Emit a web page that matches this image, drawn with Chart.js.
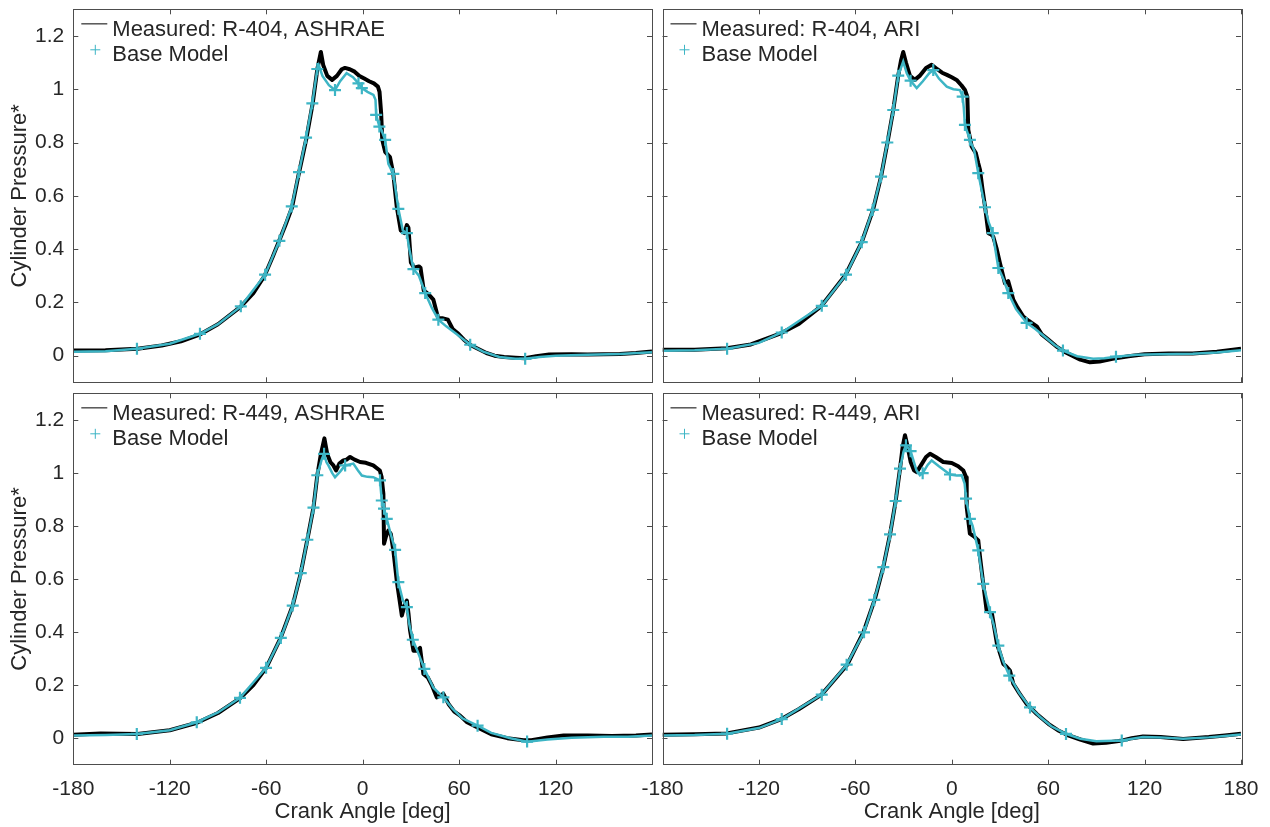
<!DOCTYPE html>
<html>
<head>
<meta charset="utf-8">
<title>Cylinder pressure vs crank angle</title>
<script src="https://cdn.jsdelivr.net/npm/chart.js@4.4.1/dist/chart.umd.min.js"></script>
<style>
  html, body { margin: 0; padding: 0; background: #fff; }
  #wrap { position: relative; width: 1270px; height: 827px; }
  #wrap canvas { position: absolute; left: 0; top: 0; }
</style>
</head>
<body>
<div id="wrap">
  <canvas id="tl" width="1270" height="827"></canvas>
  <canvas id="tr" width="1270" height="827"></canvas>
  <canvas id="bl" width="1270" height="827"></canvas>
  <canvas id="br" width="1270" height="827"></canvas>
</div>
<script>
// tick labels
const xTickValues = [-180, -120, -60, 0, 60, 120, 180];
const yTickValues = [0, 0.2, 0.4, 0.6, 0.8, 1, 1.2];

// R-404, ASHRAE
const tlMeasAngle = [-180,-160,-140,-125,-113,-101,-90,-76,-68,-61,-56,-52,-48,-44,-40,-35,-31,-28.2,-26,-24.5,-22,-19,-16,-13,-11,-8,-5,-2,1,4,7,9.5,10.5,11.5,12.2,14,17,19,21.2,23.7,26,27.5,28.5,30,32,35,36,38,41,44,47,50,53,56,59,63,67,72,77,82,88,95,101,108,116,130,140,150,160,170,180];
const tlMeasValue = [0.019,0.020,0.026,0.038,0.054,0.080,0.118,0.183,0.235,0.300,0.37,0.43,0.49,0.555,0.675,0.815,0.95,1.075,1.14,1.09,1.05,1.035,1.05,1.075,1.08,1.075,1.066,1.05,1.04,1.03,1.022,1.01,0.99,0.91,0.81,0.765,0.745,0.685,0.56,0.47,0.46,0.49,0.48,0.35,0.33,0.335,0.33,0.245,0.23,0.21,0.14,0.14,0.135,0.1,0.085,0.06,0.04,0.025,0.01,0.0,-0.005,-0.008,-0.01,-0.002,0.004,0.005,0.004,0.005,0.006,0.01,0.016];
const tlModelAngle = [-180,-160,-140.4,-120,-101.2,-90,-75.8,-60.7,-51.8,-44.1,-39.6,-35.2,-31.3,-28.2,-27.3,-25,-21,-17.2,-14,-10,-6,-2.6,-0.5,3,6.7,8,8.4,10.4,11.5,14,16,19.1,22.2,25,27.5,29,31.6,35,38.9,43,47.1,52,58.6,66.9,75,85,95,101.1,110,120,140,160,180];
const tlModelValue = [0.015,0.017,0.026,0.045,0.082,0.118,0.185,0.304,0.431,0.56,0.689,0.818,0.947,1.076,1.09,1.05,1.015,0.997,1.03,1.06,1.045,1.022,1.004,0.99,0.979,0.96,0.904,0.86,0.85,0.81,0.72,0.682,0.551,0.47,0.46,0.4,0.325,0.3,0.235,0.18,0.135,0.11,0.08,0.041,0.015,-0.005,-0.012,-0.012,-0.005,0,0.003,0.006,0.013];
const tlMarkAngle = [-140.4,-101.2,-75.8,-60.7,-51.8,-44.1,-39.6,-35.2,-31.3,-28.2,-17.2,-2.6,-0.5,8.4,10.4,14,19.1,22.2,27.5,31.6,38.9,47.1,66.9,101.1];
const tlMarkValue = [0.026,0.082,0.185,0.304,0.431,0.56,0.689,0.818,0.947,1.076,0.997,1.022,1.004,0.904,0.86,0.81,0.682,0.551,0.46,0.325,0.235,0.135,0.041,-0.012];

// R-404, ARI
const trMeasAngle = [-180,-160,-140,-125,-106,-95,-81,-66,-56,-49,-44,-40,-36.4,-33.3,-31.5,-30.2,-28.5,-26,-23,-20,-16,-12.5,-9,-6,-3,0,3,6,8.2,9.7,10.3,12.4,15,16.5,17.6,19,20.7,22.8,24.5,25.8,28,30,33.1,35.1,36.5,38.3,41,44.5,48,52.9,56,60.1,65,70,75,80,86,92,100,110,120,135,150,165,180];
const trMeasValue = [0.022,0.022,0.028,0.042,0.085,0.12,0.187,0.304,0.426,0.547,0.672,0.8,0.922,1.051,1.11,1.14,1.1,1.05,1.035,1.05,1.08,1.092,1.075,1.062,1.054,1.045,1.035,1.015,0.997,0.972,0.847,0.785,0.76,0.722,0.697,0.63,0.56,0.46,0.455,0.447,0.4,0.347,0.272,0.28,0.25,0.21,0.18,0.147,0.13,0.11,0.08,0.06,0.035,0.015,0.0,-0.015,-0.025,-0.022,-0.012,-0.002,0.005,0.008,0.008,0.015,0.026];
const trModelAngle = [-180,-160,-139.8,-120,-105.8,-80.9,-65.8,-56,-49.2,-44,-40.1,-36.4,-33.3,-30.2,-28,-25.6,-21.8,-18,-14,-11.5,-8,-3.1,1,5.1,6.8,7.5,8.2,11.3,14,16.5,20.7,23,25.5,29,32,35.2,40,46.6,52,58,64,69.2,78,88,95,102.2,115,130,150,165,180];
const trModelValue = [0.018,0.02,0.026,0.048,0.087,0.187,0.304,0.426,0.547,0.672,0.8,0.922,1.051,1.104,1.06,1.032,1.004,1.03,1.06,1.072,1.04,1.01,1.0,0.997,0.972,0.93,0.866,0.81,0.77,0.685,0.557,0.5,0.46,0.329,0.29,0.235,0.175,0.123,0.1,0.07,0.04,0.019,-0.002,-0.012,-0.01,-0.004,0.003,0.005,0.007,0.012,0.02];
const trMarkAngle = [-139.8,-105.8,-80.9,-65.8,-56,-49.2,-44,-40.1,-36.4,-33.3,-25.6,-11.5,6.8,8.2,11.3,16.5,20.7,25.5,29,35.2,46.6,69.2,102.2];
const trMarkValue = [0.026,0.087,0.187,0.304,0.426,0.547,0.672,0.8,0.922,1.051,1.032,1.072,0.972,0.866,0.81,0.685,0.557,0.46,0.329,0.235,0.123,0.019,-0.004];

// R-449, ASHRAE
const blMeasAngle = [-180,-163,-140,-120,-103,-90,-76,-68,-60,-51,-43.5,-38.5,-34.4,-30.6,-28.2,-26,-23.8,-22,-20,-18.2,-16.5,-14.5,-12,-10,-7.8,-5,-1.6,2,6.6,10.7,11.8,12.9,13.3,14.5,16,17.5,19.1,21.2,24.4,26,27.5,28.5,29.5,31.6,34,35.7,37.8,40.5,43,46.1,50.2,53.4,57,60.6,65,71.5,80,90,100,105,115,125,140,155,170,180];
const blMeasValue = [0.013,0.018,0.016,0.03,0.058,0.095,0.152,0.2,0.265,0.378,0.5,0.622,0.748,0.869,0.991,1.07,1.13,1.07,1.04,1.028,1.009,1.035,1.047,1.05,1.06,1.05,1.041,1.038,1.028,1.009,0.984,0.921,0.733,0.76,0.783,0.77,0.708,0.594,0.462,0.5,0.519,0.47,0.406,0.33,0.33,0.34,0.242,0.229,0.2,0.154,0.167,0.129,0.1,0.085,0.06,0.04,0.015,0.0,-0.008,-0.008,0.003,0.01,0.01,0.008,0.01,0.014];
const blModelAngle = [-180,-160,-140.5,-120,-103.2,-90,-76.3,-60.1,-50.9,-43.5,-38.5,-34.4,-30.6,-28.2,-25.5,-24,-22.5,-21.3,-19,-17.2,-14,-10.9,-5.8,-3,-0.5,3,6.6,10.8,11.9,13.3,15,17,20.2,22.2,25,27.5,29,31.2,34,38.4,44,50.2,56,62,71.5,80,92,102.3,115,130,150,165,180];
const blModelValue = [0.01,0.012,0.016,0.03,0.06,0.097,0.152,0.265,0.378,0.5,0.622,0.748,0.869,0.991,1.05,1.072,1.04,1.028,1.0,0.984,1.005,1.028,1.035,1.01,0.99,0.985,0.984,0.972,0.896,0.865,0.827,0.78,0.71,0.588,0.52,0.494,0.43,0.371,0.33,0.261,0.19,0.154,0.11,0.075,0.047,0.02,0.0,-0.013,-0.005,0.002,0.005,0.005,0.01];
const blMarkAngle = [-140.5,-103.2,-76.3,-60.1,-50.9,-43.5,-38.5,-34.4,-30.6,-28.2,-24,-10.9,10.8,11.9,13.3,15,20.2,22.2,27.5,31.2,38.4,50.2,71.5,102.3];
const blMarkValue = [0.016,0.06,0.152,0.265,0.378,0.5,0.622,0.748,0.869,0.991,1.072,1.028,0.972,0.896,0.865,0.827,0.71,0.588,0.494,0.371,0.261,0.154,0.047,-0.013];

// R-449, ARI
const brMeasAngle = [-180,-160,-140,-120,-106,-95,-81,-65,-55,-48,-42.6,-38.4,-34.9,-32.2,-30.5,-29.1,-27.5,-25.5,-23.5,-21.8,-19,-16,-13.5,-10,-5.3,0,4,7.2,8.9,9.3,11.3,14,16.5,17.6,19.6,21.7,23.5,25,28.1,32.1,34,36.2,38.3,42,46.6,52.9,60.1,66,72,80,88,96,105,112,119,130,144,160,170,180];
const brMeasValue = [0.013,0.015,0.018,0.04,0.072,0.11,0.164,0.277,0.399,0.521,0.645,0.768,0.894,1.016,1.1,1.142,1.1,1.04,1.01,1.003,1.03,1.06,1.072,1.06,1.041,1.037,1.025,1.009,0.984,0.871,0.771,0.76,0.745,0.682,0.582,0.481,0.475,0.47,0.357,0.28,0.27,0.255,0.205,0.17,0.129,0.091,0.054,0.03,0.012,-0.005,-0.02,-0.017,-0.01,0.0,0.006,0.004,-0.003,0.004,0.01,0.017];
const brModelAngle = [-180,-160,-139.8,-120,-105.8,-80.9,-65.4,-54.6,-48.2,-42.6,-38.4,-34.9,-32.2,-30,-28.5,-25.6,-22,-19.8,-18.1,-15,-12.5,-8,-1.1,3,6.2,8,8.9,11.3,13,16.5,19.6,23.8,26,29,32,35.8,42,48.7,55,62,71.1,80,90,105.8,119,130,144,160,170,180];
const brModelValue = [0.01,0.012,0.017,0.038,0.072,0.164,0.277,0.399,0.521,0.645,0.768,0.894,1.016,1.08,1.104,1.082,1.01,0.991,0.999,1.03,1.047,1.025,0.994,0.99,0.991,0.96,0.903,0.827,0.8,0.708,0.582,0.475,0.43,0.349,0.29,0.236,0.17,0.116,0.08,0.045,0.016,-0.002,-0.012,-0.009,0.004,0.003,-0.002,0.003,0.008,0.014];
const brMarkAngle = [-139.8,-105.8,-80.9,-65.4,-54.6,-48.2,-42.6,-38.4,-34.9,-32.2,-28.5,-25.6,-18.1,-1.1,8.9,11.3,16.5,19.6,23.8,29,35.8,48.7,71.1,105.8];
const brMarkValue = [0.017,0.072,0.164,0.277,0.399,0.521,0.645,0.768,0.894,1.016,1.104,1.082,0.999,0.994,0.903,0.827,0.708,0.582,0.475,0.349,0.236,0.116,0.016,-0.009];

const FONT = "'Liberation Sans', Arial, Helvetica, sans-serif";
const INK = '#262626';
const FRAME = '#4d4d4d';
const CYAN = '#3db5c5';

const pts = (xs, ys) => xs.map((x, i) => ({ x: x, y: ys[i] }));

// box round the axes + inward ticks on all four sides
const framePlugin = {
  id: 'frame',
  afterDraw(chart) {
    const { ctx, chartArea: a, scales: { x, y } } = chart;
    const t = 5;
    ctx.save();
    ctx.strokeStyle = FRAME;
    ctx.lineWidth = 1;
    ctx.beginPath();
    x.ticks.forEach(tk => {
      const px = Math.round(x.getPixelForValue(tk.value)) + 0.5;
      ctx.moveTo(px, a.bottom); ctx.lineTo(px, a.bottom - t);
      ctx.moveTo(px, a.top); ctx.lineTo(px, a.top + t);
    });
    y.ticks.forEach(tk => {
      const py = Math.round(y.getPixelForValue(tk.value)) + 0.5;
      ctx.moveTo(a.left, py); ctx.lineTo(a.left + t, py);
      ctx.moveTo(a.right, py); ctx.lineTo(a.right - t, py);
    });
    ctx.stroke();
    ctx.strokeRect(Math.round(a.left) + 0.5, Math.round(a.top) + 0.5,
      Math.round(a.right - a.left), Math.round(a.bottom - a.top));
    ctx.restore();
  }
};

// matlab-ish legend in the top left corner
const boxLegend = {
  id: 'boxLegend',
  afterDraw(chart, args, opts) {
    const { ctx, chartArea: a } = chart;
    ctx.save();
    ctx.font = '22px ' + FONT;
    ctx.fillStyle = INK;
    ctx.textAlign = 'left';
    ctx.textBaseline = 'alphabetic';
    ctx.fillText(opts.text, a.left + 39, a.top + 27);
    ctx.fillText('Base Model', a.left + 39, a.top + 52);
    ctx.strokeStyle = '#555';
    ctx.lineWidth = 1.5;
    ctx.beginPath();
    ctx.moveTo(a.left + 8, a.top + 14.5);
    ctx.lineTo(a.left + 34, a.top + 14.5);
    ctx.stroke();
    ctx.strokeStyle = CYAN;
    ctx.lineWidth = 1;
    const cx = a.left + 22, cy = a.top + 40.5;
    ctx.beginPath();
    ctx.moveTo(cx - 5, cy); ctx.lineTo(cx + 5, cy);
    ctx.moveTo(cx, cy - 5); ctx.lineTo(cx, cy + 5);
    ctx.stroke();
    ctx.restore();
  }
};

function makePanel(id, cfg) {
  const W = 1270, H = 827;
  const yw = cfg.yLabels ? cfg.left : 10;
  const xh = cfg.xLabels ? H - cfg.bottom : 0;
  new Chart(document.getElementById(id), {
    type: 'scatter',
    data: {
      datasets: [
        {
          label: cfg.text,
          data: pts(cfg.measAngle, cfg.measValue),
          showLine: true,
          borderColor: '#000',
          borderWidth: 4,
          borderJoinStyle: 'round',
          pointRadius: 0,
          order: 3
        },
        {
          label: 'Base Model',
          data: pts(cfg.modelAngle, cfg.modelValue),
          showLine: true,
          borderColor: CYAN,
          borderWidth: 2.5,
          pointRadius: 0,
          order: 2
        },
        {
          label: 'Base Model markers',
          data: pts(cfg.markAngle, cfg.markValue),
          showLine: false,
          pointStyle: 'cross',
          pointRadius: 6,
          borderColor: CYAN,
          backgroundColor: CYAN,
          pointBorderWidth: 2.2,
          order: 1
        }
      ]
    },
    options: {
      responsive: false,
      animation: false,
      events: [],
      layout: {
        padding: {
          left: cfg.left - yw,
          right: W - cfg.right,
          top: cfg.top,
          bottom: H - cfg.bottom - xh
        }
      },
      plugins: {
        legend: { display: false },
        tooltip: { enabled: false },
        boxLegend: { text: cfg.text }
      },
      scales: {
        x: {
          type: 'linear',
          min: -180,
          max: 180,
          afterBuildTicks: s => { s.ticks = xTickValues.map(v => ({ value: v })); },
          afterFit: s => { s.height = xh; s.paddingLeft = 0; s.paddingRight = 0; },
          grid: { display: false, drawTicks: false, tickLength: 0 },
          border: { display: false },
          ticks: {
            display: cfg.xLabels,
            padding: 12,
            color: INK,
            font: { family: FONT, size: 21 },
            maxRotation: 0,
            autoSkip: false,
            callback: v => (cfg.skipLast && v === 180) ? '' : String(v)
          },
          title: {
            display: cfg.xLabels,
            text: 'Crank Angle [deg]',
            color: INK,
            font: { family: FONT, size: 22 },
            padding: { top: 0, bottom: 2 }
          }
        },
        y: {
          type: 'linear',
          min: -0.1,
          max: 1.3,
          afterBuildTicks: s => { s.ticks = yTickValues.map(v => ({ value: v })); },
          afterFit: s => { s.width = yw; s.paddingTop = 0; s.paddingBottom = 0; },
          grid: { display: false, drawTicks: false, tickLength: 0 },
          border: { display: false },
          ticks: {
            display: cfg.yLabels,
            padding: 9,
            color: INK,
            font: { family: FONT, size: 21 },
            callback: v => String(+v.toFixed(1))
          },
          title: {
            display: cfg.yLabels,
            text: 'Cylinder Pressure*',
            color: INK,
            font: { family: FONT, size: 22 },
            padding: { top: 7, bottom: 0 }
          }
        }
      }
    },
    plugins: [framePlugin, boxLegend]
  });
}

makePanel('tl', {
  text: 'Measured: R-404, ASHRAE',
  left: 73.3, right: 652, top: 9.3, bottom: 382.3,
  xLabels: false, yLabels: true,
  measAngle: tlMeasAngle, measValue: tlMeasValue,
  modelAngle: tlModelAngle, modelValue: tlModelValue,
  markAngle: tlMarkAngle, markValue: tlMarkValue
});
makePanel('tr', {
  text: 'Measured: R-404, ARI',
  left: 662.5, right: 1241, top: 9.3, bottom: 382.3,
  xLabels: false, yLabels: false,
  measAngle: trMeasAngle, measValue: trMeasValue,
  modelAngle: trModelAngle, modelValue: trModelValue,
  markAngle: trMarkAngle, markValue: trMarkValue
});
makePanel('bl', {
  text: 'Measured: R-449, ASHRAE',
  left: 73.3, right: 652, top: 393.3, bottom: 764.7,
  xLabels: true, yLabels: true, skipLast: true,
  measAngle: blMeasAngle, measValue: blMeasValue,
  modelAngle: blModelAngle, modelValue: blModelValue,
  markAngle: blMarkAngle, markValue: blMarkValue
});
makePanel('br', {
  text: 'Measured: R-449, ARI',
  left: 662.5, right: 1241, top: 393.3, bottom: 764.7,
  xLabels: true, yLabels: false,
  measAngle: brMeasAngle, measValue: brMeasValue,
  modelAngle: brModelAngle, modelValue: brModelValue,
  markAngle: brMarkAngle, markValue: brMarkValue
});
</script>
</body>
</html>
